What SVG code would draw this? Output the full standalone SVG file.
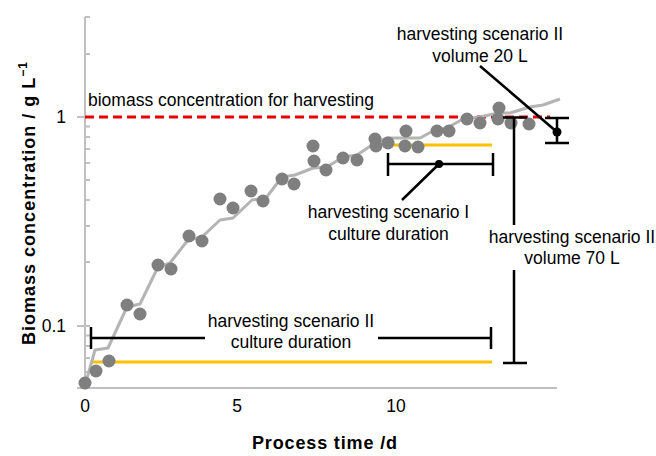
<svg xmlns="http://www.w3.org/2000/svg" width="656" height="456" viewBox="0 0 656 456">
<style>
.ax{stroke:#c0c0c0;stroke-width:2;fill:none}
.lbl{font-family:"Liberation Sans",Arial,sans-serif;font-size:17.5px;fill:#000}
.ttl{font-family:"Liberation Sans",Arial,sans-serif;font-size:18px;font-weight:bold;fill:#000}
.mid{text-anchor:middle}
.end{text-anchor:end}
.bar{stroke:#000;stroke-width:2.5;fill:none}
.yel{stroke:#ffc000;stroke-width:3;fill:none}
.pt{fill:#7f7f7f}
</style>
<rect width="656" height="456" fill="#fff"/>
<g id="axes">
<path class="ax" d="M85,17V388M77,388H557"/>
<path class="ax" d="M77,117H90M77,326H90M85,17H90M85,54H90M85,126.5H90M85,137H90M85,149H90M85,163H90M85,180H90M85,200H90M85,226H90M85,262H90M85,335.5H90M85,346H90M85,358H90M85,372H90"/>
<text class="lbl end" x="66" y="123">1</text>
<text class="lbl end" x="66" y="332">0.1</text>
<text class="lbl mid" x="85" y="412">0</text>
<text class="lbl mid" x="237" y="412">5</text>
<text class="lbl mid" x="396" y="412">10</text>
<text class="ttl" x="252" y="449" textLength="145" lengthAdjust="spacing">Process time /d</text>
<text class="ttl" transform="translate(35,345) rotate(-90)" textLength="283" lengthAdjust="spacing">Biomass concentration / g L<tspan font-size="12" dy="-8">−1</tspan></text>
</g>
<g id="thresholds">
<path class="yel" d="M390,145H492M91,362H492"/>
<path d="M85,117H550" stroke="#e80000" stroke-width="3" stroke-dasharray="9 5" fill="none"/>
<text class="lbl" x="88" y="106">biomass concentration for harvesting</text>
</g>
<g id="growth-curve">
<polyline fill="none" stroke="#b4b4b4" stroke-width="3" stroke-linejoin="round" points="84,389 95,350 108,348 127,307 140,304 158,267 170,263 188,240 202,237 220,220 233,218 252,200 266,198 282,177 295,175 313,168 327,167 343,157 357,155 375,143 387,138 405,138 420,138 435,130 447,128 463,119 480,117 498,113 510,113 530,107 543,105 560,99"/>
</g>
<g id="data-points">
<circle class="pt" cx="85" cy="383" r="6.5"/>
<circle class="pt" cx="96" cy="371" r="6.5"/>
<circle class="pt" cx="109" cy="361" r="6.5"/>
<circle class="pt" cx="127" cy="305" r="6.5"/>
<circle class="pt" cx="140" cy="314" r="6.5"/>
<circle class="pt" cx="158" cy="265" r="6.5"/>
<circle class="pt" cx="171" cy="269" r="6.5"/>
<circle class="pt" cx="189" cy="236" r="6.5"/>
<circle class="pt" cx="202" cy="241" r="6.5"/>
<circle class="pt" cx="220" cy="199" r="6.5"/>
<circle class="pt" cx="233" cy="208" r="6.5"/>
<circle class="pt" cx="251" cy="191" r="6.5"/>
<circle class="pt" cx="263" cy="201" r="6.5"/>
<circle class="pt" cx="282" cy="179" r="6.5"/>
<circle class="pt" cx="294" cy="184" r="6.5"/>
<circle class="pt" cx="313" cy="146" r="6.5"/>
<circle class="pt" cx="314" cy="161" r="6.5"/>
<circle class="pt" cx="326" cy="170" r="6.5"/>
<circle class="pt" cx="343" cy="158" r="6.5"/>
<circle class="pt" cx="357" cy="160" r="6.5"/>
<circle class="pt" cx="375" cy="139" r="6.5"/>
<circle class="pt" cx="376" cy="146" r="6.5"/>
<circle class="pt" cx="388" cy="143" r="6.5"/>
<circle class="pt" cx="406" cy="131" r="6.5"/>
<circle class="pt" cx="405" cy="146" r="6.5"/>
<circle class="pt" cx="418" cy="147" r="6.5"/>
<circle class="pt" cx="437" cy="131" r="6.5"/>
<circle class="pt" cx="449" cy="131" r="6.5"/>
<circle class="pt" cx="467" cy="119" r="6.5"/>
<circle class="pt" cx="480" cy="123" r="6.5"/>
<circle class="pt" cx="499" cy="108" r="6.5"/>
<circle class="pt" cx="498" cy="119" r="6.5"/>
<circle class="pt" cx="511" cy="123" r="6.5"/>
<circle class="pt" cx="529" cy="124" r="6.5"/>
</g>
<g id="connectors">
<path class="bar" d="M91,338H205M378,338H491M91,327V349M491,327V349"/>
<path class="bar" d="M388,164H493M388,153V176M493,153V176M439,164L402,200"/>
<path class="bar" d="M514,117.5V225M514,270V363M503,117.5H527M503,363H527"/>
<path class="bar" d="M557,118V143M545,118H569M545,143H569M557,132L480,66"/>
<circle cx="439" cy="164" r="4"/>
<circle cx="557" cy="132" r="4.5"/>
</g>
<g id="label-scenario-II-duration">
<text class="lbl mid" x="291" y="327">harvesting scenario II</text>
<text class="lbl mid" x="291" y="348">culture duration</text>
</g>
<g id="label-scenario-I-duration">
<text class="lbl mid" x="388.5" y="218">harvesting scenario I</text>
<text class="lbl mid" x="388.5" y="240">culture duration</text>
</g>
<g id="label-scenario-II-70L">
<text class="lbl mid" x="572" y="243">harvesting scenario II</text>
<text class="lbl mid" x="572" y="264">volume 70 L</text>
</g>
<g id="label-scenario-II-20L">
<text class="lbl mid" x="480" y="40">harvesting scenario II</text>
<text class="lbl mid" x="480" y="62">volume 20 L</text>
</g>
</svg>
